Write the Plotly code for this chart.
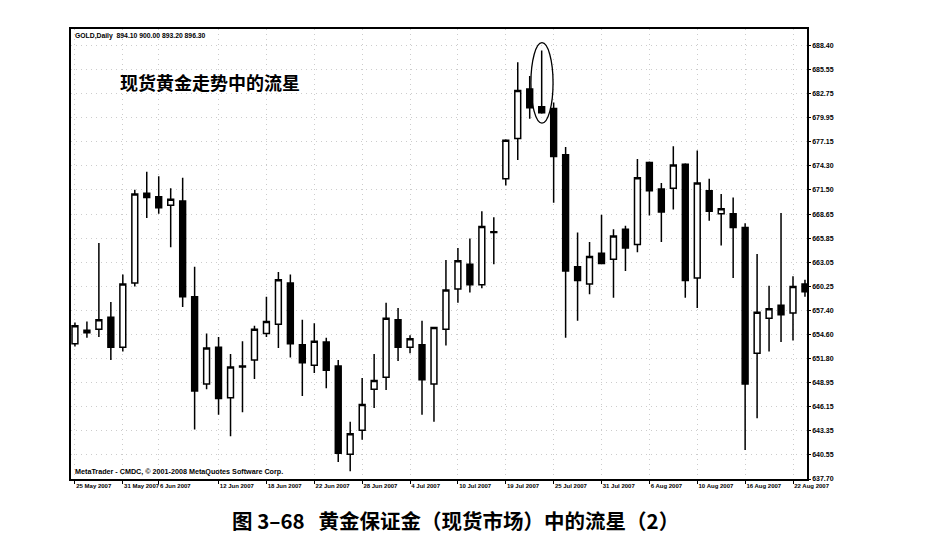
import plotly.graph_objects as go

# ---- data ----
open_ = [653.5, 654.8, 655.2, 656.6, 653.1, 660.6, 671.1, 670.7, 669.7, 670.2,
         659.0, 648.8, 653.1, 647.2, 650.9, 651.6, 654.7, 655.8, 660.6, 653.4,
         651.0, 653.7, 650.9, 640.6, 643.4, 648.2, 649.6, 656.3, 653.1, 653.4,
         648.8, 655.2, 659.9, 662.8, 660.4, 666.5, 672.8, 677.5, 683.3, 681.2,
         681.0, 675.6, 662.5, 660.5, 664.1, 663.4, 666.9, 665.1, 674.7, 671.6,
         671.7, 674.5, 661.2, 671.4, 668.7, 668.7, 667.1, 652.4, 656.5, 658.0,
         657.1, 660.5]
high = [656.0, 656.1, 665.3, 658.4, 661.6, 671.5, 673.6, 673.1, 671.7, 672.9,
        662.5, 654.7, 654.3, 652.3, 653.8, 655.6, 659.0, 661.9, 661.6, 656.3,
        655.9, 654.2, 651.6, 644.4, 649.5, 652.3, 658.3, 657.7, 654.5, 656.2,
        655.5, 663.3, 664.7, 665.8, 669.0, 668.3, 677.4, 686.4, 684.8, 687.8,
        681.7, 676.5, 666.5, 665.4, 668.6, 666.9, 667.3, 675.1, 674.8, 672.3,
        676.6, 674.6, 676.1, 672.8, 671.0, 670.6, 667.6, 664.0, 660.3, 668.8,
        661.4, 661.0]
low = [653.2, 654.2, 654.3, 651.6, 652.6, 660.2, 668.2, 668.7, 664.8, 657.8,
       643.5, 648.2, 645.2, 642.7, 645.5, 649.4, 654.3, 653.0, 651.9, 647.4,
       650.1, 648.3, 639.7, 638.6, 642.3, 646.0, 648.1, 651.5, 652.4, 645.2,
       644.4, 653.3, 658.3, 659.5, 660.0, 662.8, 672.0, 675.0, 679.8, 680.4,
       670.0, 654.2, 656.2, 659.3, 662.8, 658.9, 662.0, 664.2, 668.5, 665.4,
       669.2, 658.9, 657.7, 667.9, 665.0, 661.2, 641.1, 644.8, 652.6, 653.7,
       653.9, 659.0]
close = [655.6, 655.1, 656.3, 653.1, 660.5, 671.0, 670.6, 669.4, 670.4, 659.0,
         648.0, 653.0, 647.1, 650.8, 650.8, 655.2, 656.1, 661.0, 653.5, 651.3,
         653.8, 650.4, 640.7, 643.0, 646.4, 649.2, 656.5, 653.1, 654.1, 649.3,
         655.4, 659.8, 663.2, 660.4, 667.2, 666.6, 677.3, 683.1, 681.1, 680.5,
         675.4, 662.0, 660.9, 663.7, 662.9, 666.1, 664.7, 672.9, 671.4, 668.9,
         674.4, 660.9, 672.3, 669.0, 669.3, 667.1, 648.8, 657.2, 657.6, 656.9,
         660.2, 659.6]
bar_index = list(range(len(open_)))

date_tick_bars = [0, 4, 7, 12, 16, 20, 24, 28, 32, 36, 40, 44, 48, 52, 56, 60]
date_tick_labels = ["25 May 2007", "31 May 2007", "6 Jun 2007", "12 Jun 2007",
                    "18 Jun 2007", "22 Jun 2007", "28 Jun 2007", "4 Jul 2007",
                    "10 Jul 2007", "19 Jul 2007", "25 Jul 2007", "31 Jul 2007",
                    "6 Aug 2007", "10 Aug 2007", "16 Aug 2007", "22 Aug 2007"]
price_ticks = [637.70, 640.55, 643.35, 646.15, 648.95, 651.80, 654.60, 657.40,
               660.25, 663.05, 665.85, 668.65, 671.50, 674.30, 677.15, 679.95,
               682.75, 685.55, 688.40]
shooting_star_bar = 39

# ---- figure ----
fig = go.Figure()
fig.add_trace(go.Candlestick(
    x=bar_index, open=open_, high=high, low=low, close=close,
    increasing=dict(fillcolor="white", line=dict(color="black", width=1.5)),
    decreasing=dict(fillcolor="black", line=dict(color="black", width=1.5)),
    whiskerwidth=0, showlegend=False, hoverinfo="skip",
))

# ellipse around the shooting star, derived from its own candle
s = shooting_star_bar
fig.add_shape(type="circle", xref="x", yref="y",
              x0=s - 0.9, x1=s + 0.95,
              y0=low[s] - 1.1, y1=high[s] + 0.9,
              line=dict(color="black", width=1.3))

grid = dict(showgrid=True, gridcolor="#cccccc", griddash="1px,4px", gridwidth=1)

# page body has an 8px margin, so the figure is sized to fit inside it
fig.update_layout(
    width=910, height=533,
    margin=dict(l=63, r=111, t=21, b=62, autoexpand=False),
    paper_bgcolor="white", plot_bgcolor="white",
    font=dict(family="Liberation Sans, Arial, sans-serif", color="black"),
    xaxis=dict(
        range=[-0.33, 61.17], rangeslider=dict(visible=False),
        tickmode="array", tickvals=date_tick_bars, ticktext=date_tick_labels,
        ticklabelposition="outside right", tickangle=0,
        tickfont=dict(size=6, family="Liberation Sans Narrow, Liberation Sans", color="black", weight="bold"),
        ticks="outside", ticklen=3, tickcolor="black",
        showline=True, linecolor="black", linewidth=1.5, mirror=True,
        zeroline=False, **grid,
    ),
    yaxis=dict(
        range=[637.7, 690.3], side="right",
        tickmode="array", tickvals=price_ticks,
        ticktext=[f"{v:.2f}" for v in price_ticks],
        tickfont=dict(size=7, color="black", weight="bold"),
        ticks="outside", ticklen=2, tickcolor="black",
        showline=True, linecolor="black", linewidth=1.5, mirror=True,
        zeroline=False, **grid,
    ),
)

fig.add_annotation(xref="paper", yref="paper", x=0, y=1, xanchor="left", yanchor="top",
                   xshift=2, yshift=-1, showarrow=False,
                   text="<b>GOLD,Daily  894.10 900.00 893.20 896.30</b>",
                   font=dict(size=6.8, family="Liberation Sans Narrow, Liberation Sans"))
fig.add_annotation(xref="paper", yref="paper", x=0.064, y=0.882, xanchor="left", yanchor="middle",
                   showarrow=False, text="<b>现货黄金走势中的流星</b>",
                   font=dict(size=18, family="Noto Sans CJK SC"))
fig.add_annotation(xref="paper", yref="paper", x=0, y=0, xanchor="left", yanchor="bottom",
                   xshift=2, yshift=1, showarrow=False,
                   text="<b>MetaTrader - CMDC, © 2001-2008 MetaQuotes Software Corp.</b>",
                   font=dict(size=7.2, family="Liberation Sans Narrow, Liberation Sans"))
fig.add_annotation(xref="paper", yref="paper", x=0.522, y=-0.091, xanchor="center", yanchor="middle",
                   showarrow=False,
                   text="<b>图 3–68   黄金保证金（现货市场）中的流星（2）</b>",
                   font=dict(size=20.5, family="Noto Sans CJK SC"))

fig.write_html("out.html")
